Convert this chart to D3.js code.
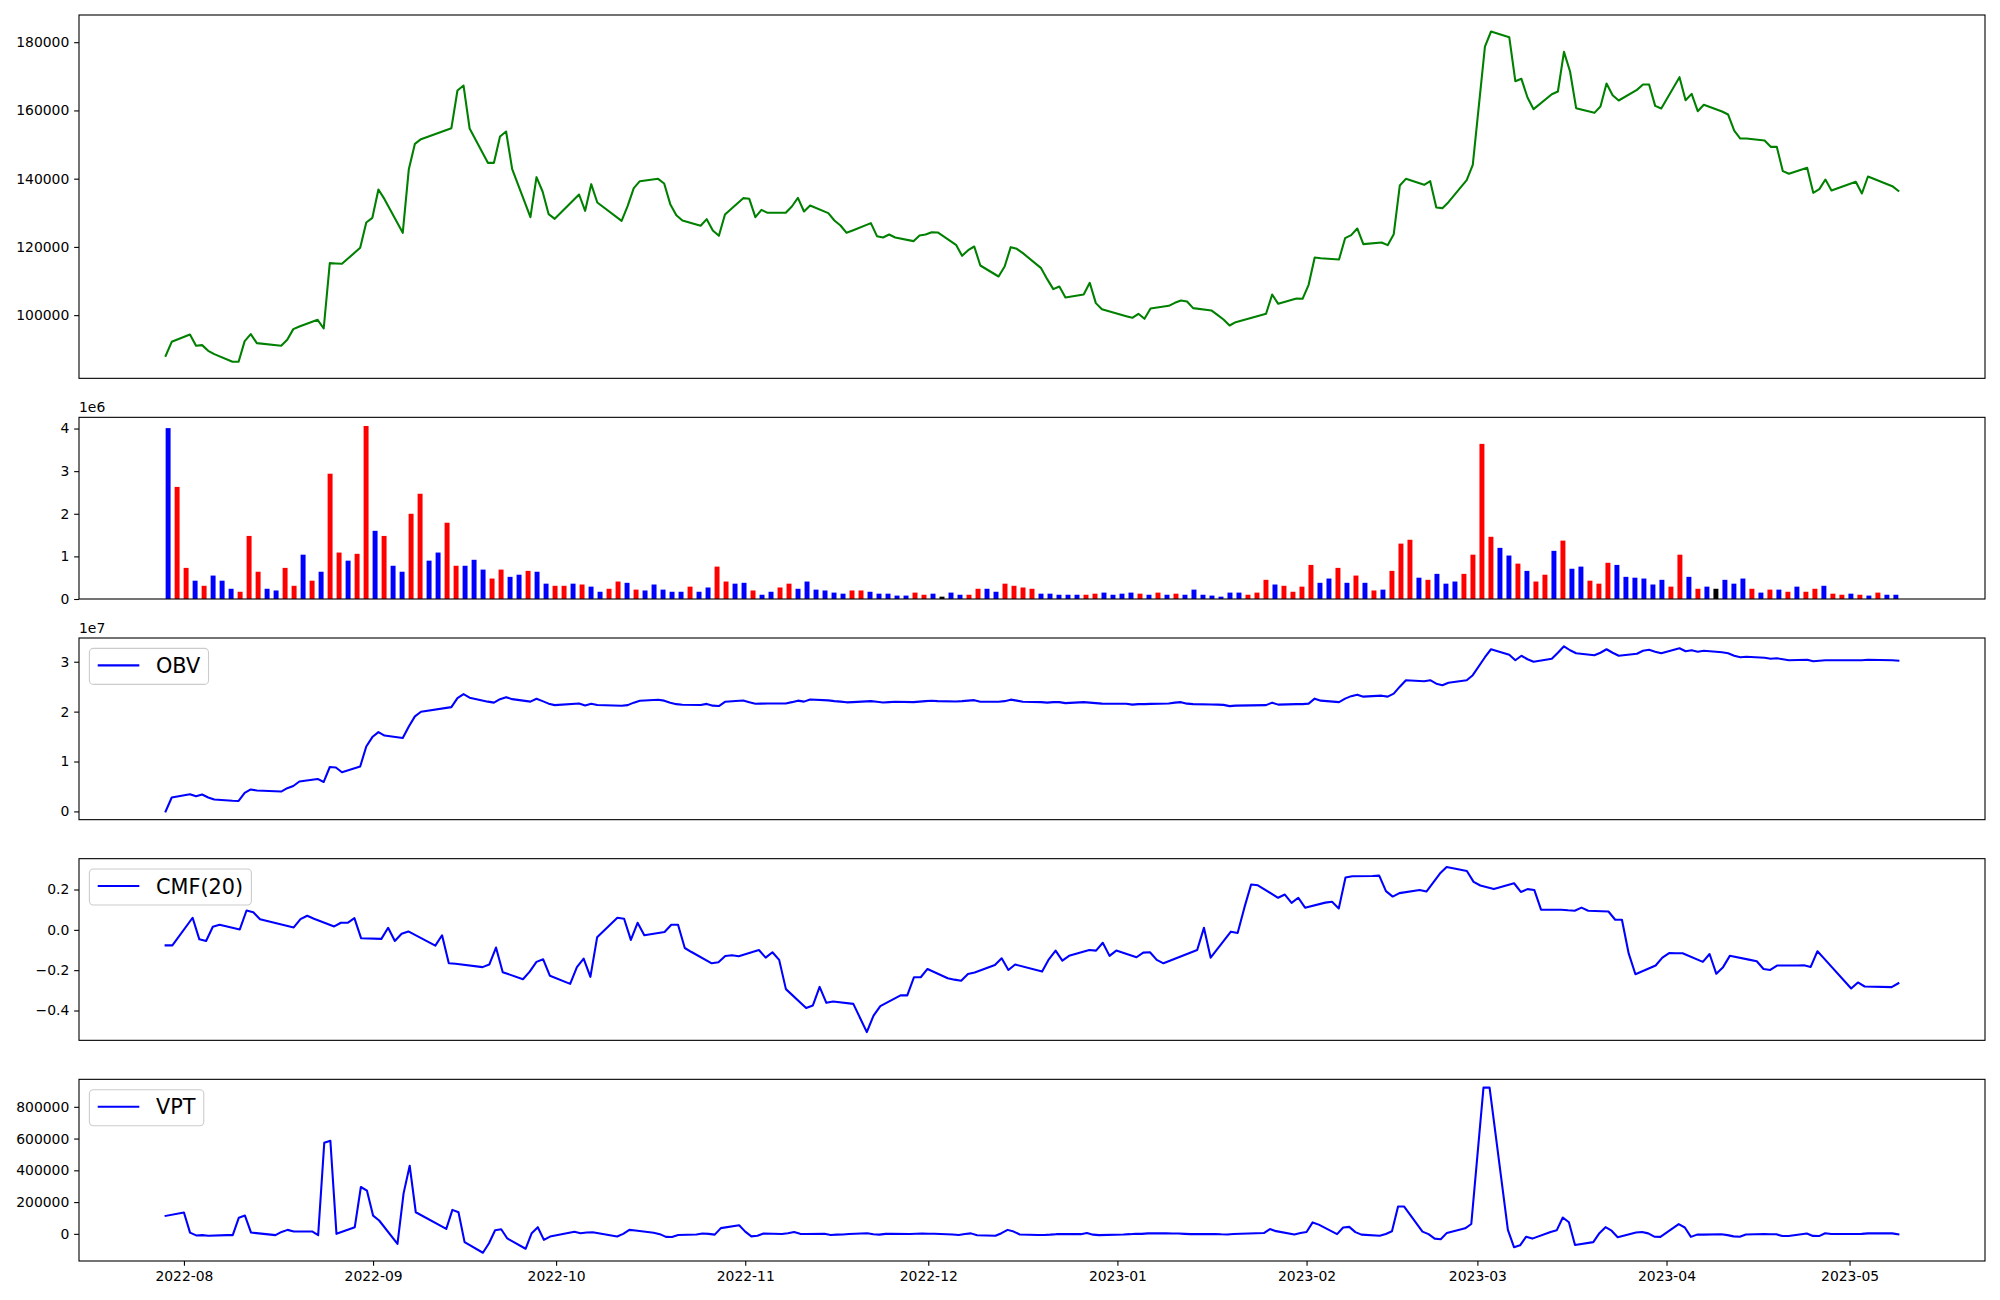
<!DOCTYPE html>
<html><head><meta charset="utf-8">
<script src="https://cdn.jsdelivr.net/npm/d3@7"></script>
<style>
html,body{margin:0;padding:0;background:#fff;}
svg{display:block;font-family:"DejaVu Sans",sans-serif;}
</style></head><body>
<svg id="chart" width="2000" height="1300"></svg>
<script>
// ---------------- DATA ----------------
const dates = ["2022-07-28","2022-07-29",
"2022-08-01","2022-08-02","2022-08-03","2022-08-04","2022-08-05","2022-08-08","2022-08-09","2022-08-10","2022-08-11","2022-08-12","2022-08-16","2022-08-17","2022-08-18","2022-08-19","2022-08-22","2022-08-23","2022-08-24","2022-08-25","2022-08-26","2022-08-29","2022-08-30","2022-08-31",
"2022-09-01","2022-09-02","2022-09-05","2022-09-06","2022-09-07","2022-09-08","2022-09-13","2022-09-14","2022-09-15","2022-09-16","2022-09-19","2022-09-20","2022-09-21","2022-09-22","2022-09-23","2022-09-26","2022-09-27","2022-09-28","2022-09-29","2022-09-30",
"2022-10-04","2022-10-05","2022-10-06","2022-10-07","2022-10-11","2022-10-12","2022-10-13","2022-10-14","2022-10-17","2022-10-18","2022-10-19","2022-10-20","2022-10-21","2022-10-24","2022-10-25","2022-10-26","2022-10-27","2022-10-28","2022-10-31",
"2022-11-01","2022-11-02","2022-11-03","2022-11-04","2022-11-07","2022-11-08","2022-11-09","2022-11-10","2022-11-11","2022-11-14","2022-11-15","2022-11-16","2022-11-17","2022-11-18","2022-11-21","2022-11-22","2022-11-23","2022-11-24","2022-11-25","2022-11-28","2022-11-29","2022-11-30",
"2022-12-01","2022-12-02","2022-12-05","2022-12-06","2022-12-07","2022-12-08","2022-12-09","2022-12-12","2022-12-13","2022-12-14","2022-12-15","2022-12-16","2022-12-19","2022-12-20","2022-12-21","2022-12-22","2022-12-23","2022-12-26","2022-12-27","2022-12-28","2022-12-29",
"2023-01-02","2023-01-03","2023-01-04","2023-01-05","2023-01-06","2023-01-09","2023-01-10","2023-01-11","2023-01-12","2023-01-13","2023-01-16","2023-01-17","2023-01-18","2023-01-19","2023-01-20","2023-01-25","2023-01-26","2023-01-27","2023-01-30","2023-01-31",
"2023-02-01","2023-02-02","2023-02-03","2023-02-06","2023-02-07","2023-02-08","2023-02-09","2023-02-10","2023-02-13","2023-02-14","2023-02-15","2023-02-16","2023-02-17","2023-02-20","2023-02-21","2023-02-22","2023-02-23","2023-02-24","2023-02-27","2023-02-28",
"2023-03-02","2023-03-03","2023-03-06","2023-03-07","2023-03-08","2023-03-09","2023-03-10","2023-03-13","2023-03-14","2023-03-15","2023-03-16","2023-03-17","2023-03-20","2023-03-21","2023-03-22","2023-03-23","2023-03-24","2023-03-27","2023-03-28","2023-03-29","2023-03-30","2023-03-31",
"2023-04-03","2023-04-04","2023-04-05","2023-04-06","2023-04-07","2023-04-10","2023-04-11","2023-04-12","2023-04-13","2023-04-14","2023-04-17","2023-04-18","2023-04-19","2023-04-20","2023-04-21","2023-04-24","2023-04-25","2023-04-26","2023-04-27","2023-04-28",
"2023-05-02","2023-05-03","2023-05-04","2023-05-08","2023-05-09"];

const closePrice = [88080,92190,94330,91010,91210,89550,88570,86320,86320,92380,
94430,91800,91010,92770,95900,96680,98630,96090,115240,115140,
115040,119730,127150,128520,136830,133990,124130,142780,150210,151580,
154800,165840,167300,154700,144640,144640,152360,153820,142780,128720,
140440,136240,129600,128230,135360,130570,138390,133020,127640,132040,
137220,139270,139950,138580,132530,129300,127740,126180,128130,124810,
123250,129500,134290,134090,128720,130870,129990,129990,131840,134380,
130380,132140,129890,127740,126280,124130,124810,126960,123150,122760,
123640,122760,121690,123350,123640,124320,124230,120610,117390,119050,
120120,114550,111330,114260,119930,119440,118170,113770,110550,107620,
108400,105180,106060,109480,103520,101760,99710,99220,100390,98930,
101950,102730,103610,104300,104000,102050,101370,100100,98730,96970,
97950,100390,106060,103320,104880,104790,108890,116900,116700,116310,
122560,123440,125400,120810,121300,120510,123740,138000,139950,138190,
139270,131550,131360,133110,139560,144050,178730,183130,181470,168570,
169260,163790,160370,164760,165540,177170,171400,160660,159290,161150,
167890,164470,162910,166030,167600,167600,161340,160560,169740,163000,
164860,159780,161640,159680,158800,154110,151770,151770,151180,149330,
149330,142200,141420,143170,135850,136920,139750,136530,139070,135650,
140640,137800,136430];

// volume in units of 1e6 shares
const volume1e6 = [4.01,2.63,0.73,0.43,0.31,0.55,0.43,0.24,0.17,1.48,
0.64,0.24,0.20,0.73,0.31,1.04,0.43,0.64,2.94,1.09,
0.90,1.06,4.06,1.60,1.48,0.78,0.64,2.00,2.47,0.90,
1.09,1.79,0.78,0.78,0.92,0.69,0.48,0.69,0.52,0.57,
0.66,0.64,0.36,0.31,0.31,0.36,0.34,0.29,0.17,0.24,
0.41,0.38,0.22,0.20,0.34,0.22,0.17,0.17,0.29,0.17,
0.27,0.76,0.41,0.36,0.38,0.20,0.10,0.17,0.27,0.36,
0.24,0.41,0.22,0.20,0.15,0.125,0.20,0.20,0.17,0.125,
0.125,0.08,0.08,0.15,0.10,0.125,0.055,0.15,0.10,0.10,
0.24,0.24,0.17,0.36,0.31,0.27,0.24,0.125,0.125,0.10,
0.10,0.10,0.10,0.125,0.15,0.10,0.125,0.15,0.125,0.10,
0.15,0.10,0.125,0.10,0.22,0.10,0.08,0.055,0.15,0.15,
0.10,0.15,0.45,0.34,0.31,0.17,0.29,0.80,0.38,0.48,
0.73,0.38,0.55,0.38,0.20,0.22,0.66,1.30,1.39,0.50,
0.45,0.59,0.36,0.41,0.59,1.04,3.64,1.46,1.20,1.02,
0.83,0.66,0.41,0.57,1.13,1.37,0.71,0.76,0.43,0.36,
0.85,0.80,0.52,0.50,0.48,0.34,0.45,0.29,1.04,0.52,
0.24,0.29,0.24,0.45,0.36,0.48,0.24,0.15,0.22,0.22,
0.17,0.29,0.17,0.24,0.31,0.125,0.10,0.125,0.10,0.08,
0.15,0.10,0.10];

// bar direction: 1 = up (red), -1 = down (blue), 0 = unchanged (black)
const volumeDir = [-1,1,1,-1,1,-1,-1,-1,1,1,
1,-1,-1,1,1,-1,1,-1,1,1,
-1,1,1,-1,1,-1,-1,1,1,-1,
-1,1,1,-1,-1,-1,1,1,-1,-1,
1,-1,-1,1,1,-1,1,-1,-1,1,
1,-1,1,-1,-1,-1,-1,-1,1,-1,
-1,1,1,-1,-1,1,-1,-1,1,1,
-1,-1,-1,-1,-1,-1,1,1,-1,-1,
-1,-1,-1,1,1,-1,0,-1,-1,1,
1,-1,-1,1,1,1,1,-1,-1,-1,
-1,-1,1,1,-1,-1,-1,-1,1,-1,
1,-1,1,-1,-1,-1,-1,-1,-1,-1,
1,1,1,-1,1,1,1,1,-1,-1,
1,-1,1,-1,1,-1,1,1,1,-1,
1,-1,-1,-1,1,1,1,1,-1,-1,
1,-1,1,1,-1,1,-1,-1,1,1,
1,-1,-1,-1,-1,-1,-1,1,1,-1,
1,-1,0,-1,-1,-1,1,-1,1,-1,
1,-1,1,1,-1,1,1,-1,1,-1,
1,-1,-1];

// OBV in units of 1e7
const obv1e7 = [0,0.279,0.345,0.305,0.338,0.28,0.237,0.214,0.21,0.37,
0.44,0.418,0.398,0.465,0.51,0.60,0.651,0.59,0.89,0.88,
0.784,0.90,1.30,1.49,1.59,1.52,1.47,1.70,1.905,1.998,
2.09,2.27,2.35,2.28,2.20,2.18,2.25,2.29,2.25,2.20,
2.257,2.21,2.16,2.13,2.164,2.124,2.157,2.131,2.117,2.13,
2.18,2.217,2.237,2.22,2.18,2.15,2.137,2.131,2.155,2.12,
2.111,2.197,2.224,2.19,2.157,2.16,2.164,2.164,2.19,2.22,
2.20,2.244,2.225,2.21,2.20,2.186,2.19,2.21,2.197,2.184,
2.19,2.197,2.19,2.20,2.21,2.217,2.21,2.204,2.21,2.22,
2.23,2.197,2.197,2.21,2.24,2.22,2.197,2.19,2.18,2.19,
2.19,2.17,2.19,2.18,2.17,2.16,2.157,2.14,2.15,2.15,
2.155,2.164,2.18,2.19,2.16,2.15,2.144,2.14,2.135,2.11,
2.12,2.13,2.18,2.14,2.15,2.15,2.16,2.26,2.22,2.19,
2.26,2.31,2.34,2.30,2.32,2.30,2.36,2.50,2.63,2.61,
2.63,2.56,2.53,2.58,2.63,2.73,3.09,3.25,3.14,3.03,
3.12,3.05,3.00,3.06,3.18,3.31,3.23,3.17,3.13,3.18,
3.25,3.18,3.12,3.16,3.22,3.24,3.20,3.17,3.27,3.21,
3.23,3.20,3.22,3.19,3.17,3.12,3.09,3.10,3.08,3.06,
3.07,3.05,3.03,3.04,3.01,3.02,3.03,3.03,3.03,3.03,
3.04,3.03,3.02];

// CMF(20): no value for the first 19 days
const cmf20 = [null,null,null,null,null,null,null,null,null,null,
null,null,null,null,null,null,null,null,null,-0.077,
-0.077,0.06,-0.047,-0.055,0.015,0.025,0.002,0.096,0.087,0.053,
0.012,0.053,0.07,0.055,0.017,0.035,0.035,0.058,-0.042,-0.045,
0.01,-0.055,-0.019,-0.008,-0.078,-0.027,-0.166,-0.168,-0.185,-0.172,
-0.088,-0.21,-0.245,-0.207,-0.159,-0.146,-0.228,-0.268,-0.185,-0.143,
-0.233,-0.037,0.06,0.055,-0.05,0.035,-0.027,-0.011,0.025,0.025,
-0.09,-0.11,-0.166,-0.161,-0.13,-0.126,-0.131,-0.1,-0.138,-0.111,
-0.149,-0.294,-0.388,-0.375,-0.283,-0.362,-0.355,-0.367,-0.437,-0.507,
-0.425,-0.378,-0.325,-0.325,-0.235,-0.235,-0.194,-0.24,-0.247,-0.252,
-0.219,-0.212,-0.174,-0.141,-0.199,-0.172,-0.207,-0.146,-0.103,-0.153,
-0.129,-0.1,-0.103,-0.064,-0.129,-0.103,-0.136,-0.113,-0.111,-0.149,
-0.166,-0.1,0.01,-0.138,-0.009,-0.016,0.11,0.225,0.221,0.159,
0.175,0.134,0.159,0.11,0.135,0.139,0.106,0.26,0.266,0.267,
0.269,0.192,0.165,0.182,0.198,0.19,0.279,0.312,0.292,0.238,
0.22,0.211,0.202,0.231,0.188,0.202,0.198,0.1,0.1,0.097,
0.095,0.11,0.095,0.091,0.05,0.05,-0.117,-0.22,-0.177,-0.138,
-0.115,-0.116,-0.116,-0.159,-0.12,-0.218,-0.185,-0.129,-0.149,-0.156,
-0.194,-0.199,-0.177,-0.177,-0.176,-0.184,-0.106,-0.143,-0.291,-0.261,
-0.281,-0.284,-0.265];

// VPT: no value on the first day
const vpt = [null,113000,134000,8000,-10000,-8000,-12000,-8000,-8000,102000,
115000,8000,-8000,12000,25000,15000,15000,-8000,574000,586000,
0,42000,295000,272000,115000,84000,-63000,255000,429000,136000,
31000,151000,136000,-52000,-119000,-59000,23000,29000,-29000,-94000,
4000,42000,-38000,-17000,13000,4000,8000,10000,-17000,0,
25000,21000,7000,-2000,-19000,-20000,-7000,-4000,2000,0,
-5000,36000,54000,14000,-16000,-12000,2000,-1000,4000,11000,
0,-1000,1000,-7000,-5000,-4000,-1000,4000,-2000,-5000,
0,0,-1000,1000,2000,1000,1000,-4000,-7000,-1000,
3000,-9000,-12000,4000,25000,14000,-4000,-7000,-7000,-5000,
-2000,-2000,-2000,5000,-5000,-8000,-4000,-2000,1000,0,
3000,4000,2000,2000,0,-2000,-2000,-1000,-3000,-4000,
-1000,5000,30000,17000,-4000,5000,12000,72000,58000,-2000,
40000,44000,11000,-5000,-12000,-1000,16000,172000,172000,14000,
-2000,-30000,-34000,6000,35000,62000,921000,921000,25000,-84000,
-72000,-18000,-30000,12000,22000,103000,73000,-70000,-52000,4000,
42000,20000,-21000,8000,12000,3000,-18000,-19000,61000,40000,
-19000,-5000,-5000,-3000,-8000,-16000,-18000,-4000,-1000,-3000,
-3000,-14000,-14000,2000,-13000,-14000,4000,-1000,-1000,0,
3000,3000,-3000];

const priceTicks = [100000,120000,140000,160000,180000];
const volTicks = [0,1,2,3,4];
const obvTicks = [0,1,2,3];
const cmfTicks = [-0.4,-0.2,0.0,0.2];
const vptTicks = [0,200000,400000,600000,800000];
const xTickLabels = ["2022-08","2022-09","2022-10","2022-11","2022-12","2023-01","2023-02","2023-03","2023-04","2023-05"];

// ---------------- LAYOUT / STYLE ----------------
const C = {price:"#008000", line:"#0000ff", up:"#ff0000", down:"#0000ff", flat:"#000000"};
const FS = 13.9, LFS = 20.8, LW = 2.08, SPINE = 1.1, TICK = 4.86, PAD = 4.86;
const L = 79, R = 1985, TOP = 15, BOTTOM = 1261, GAP = 39;
const ratios = [2,1,1,1,1];
const unit = (BOTTOM - TOP - GAP*(ratios.length-1)) / d3.sum(ratios);
let yy = TOP;
const P = ratios.map(r => { const p = {top: yy, bottom: yy + r*unit}; yy += r*unit + GAP; return p; });

const svg = d3.select("#chart");
const N = dates.length;
const T = dates.map(d3.utcParse("%Y-%m-%d"));

// each panel autoscales x to its own valid data (5% margins)
function timeScale(vals){
  const t = T.filter((d,i)=> vals[i] !== null && vals[i] !== undefined);
  const e = d3.extent(t), span = e[1]-e[0];
  return d3.scaleUtc().domain([new Date(+e[0]-0.05*span), new Date(+e[1]+0.05*span)]).range([L, R]);
}
function padDomain(arr){ const e = d3.extent(arr.filter(v=>v!==null)), r = e[1]-e[0]; return [e[0]-0.05*r, e[1]+0.05*r]; }

function yAxis(g, y, ticks, fmt){
  const ax = d3.axisLeft(y).tickValues(ticks).tickFormat(fmt).tickSize(TICK).tickPadding(PAD).tickSizeOuter(0);
  g.call(ax);
  g.select(".domain").remove();
  g.selectAll("line").attr("stroke","#000").attr("stroke-width",SPINE);
  g.selectAll("text").attr("fill","#000").style("font-size",FS+"px").style("font-family","DejaVu Sans");
  g.attr("font-family", null).attr("font-size", null);
}
function frame(p){
  svg.append("rect").attr("x",L).attr("y",p.top).attr("width",R-L).attr("height",p.bottom-p.top)
    .attr("fill","none").attr("stroke","#000").attr("stroke-width",SPINE);
}
function drawLine(x, y, vals, color){
  const line = d3.line().defined(d => d !== null).x((d,i)=>x(T[i])).y(d=>y(d));
  svg.append("path").datum(vals).attr("d", line).attr("fill","none").attr("stroke",color)
    .attr("stroke-width",LW).attr("stroke-linejoin","round").attr("stroke-linecap","square");
}
function legend(p, label){
  const g = svg.append("g");
  const pad = 0.4*LFS, hl = 2.0*LFS, htp = 0.8*LFS, bh = 36;
  const bx = L + 0.5*LFS, by = p.top + 0.5*LFS, cy = by + bh/2 - 1;
  const txt = g.append("text").attr("x", bx + pad + hl + htp).attr("y", cy + 0.36*LFS)
     .style("font-size", LFS+"px").style("font-family","DejaVu Sans").attr("fill","#000").text(label);
  const tw = txt.node().getComputedTextLength();
  const bw = 2*pad + hl + htp + tw;
  g.insert("rect","text").attr("x",bx).attr("y",by).attr("width",bw).attr("height",bh).attr("rx",4).attr("ry",4)
    .attr("fill","#fff").attr("fill-opacity",0.8).attr("stroke","#cccccc").attr("stroke-width",SPINE);
  g.append("line").attr("x1",bx+pad).attr("x2",bx+pad+hl).attr("y1",cy).attr("y2",cy)
    .attr("stroke",C.line).attr("stroke-width",LW);
}
function offsetText(p, s){
  svg.append("text").attr("x",L).attr("y",p.top-5).style("font-size",FS+"px").style("font-family","DejaVu Sans")
    .attr("fill","#000").text(s);
}

// Panel 1: price
{
  const p = P[0], x = timeScale(closePrice);
  const y = d3.scaleLinear().domain(padDomain(closePrice)).range([p.bottom, p.top]);
  drawLine(x, y, closePrice, C.price);
  yAxis(svg.append("g").attr("transform",`translate(${L},0)`), y, priceTicks, d3.format("d"));
  frame(p);
}
// Panel 2: volume bars (index based)
{
  const p = P[1], w = 0.55, ext = (N-1) + w;
  const xb = d3.scaleLinear().domain([-w/2 - 0.05*ext, (N-1) + w/2 + 0.05*ext]).range([L, R]);
  const y = d3.scaleLinear().domain([0, d3.max(volume1e6)*1.05]).range([p.bottom, p.top]);
  svg.append("g").selectAll("rect").data(volume1e6).join("rect")
    .attr("x",(d,i)=>xb(i - w/2)).attr("width", xb(w) - xb(0))
    .attr("y", d=>y(d)).attr("height", d=>y(0)-y(d))
    .attr("fill",(d,i)=> volumeDir[i] > 0 ? C.up : (volumeDir[i] < 0 ? C.down : C.flat));
  yAxis(svg.append("g").attr("transform",`translate(${L},0)`), y, volTicks, d3.format("d"));
  frame(p);
  offsetText(p, "1e6");
}
// Panel 3: OBV
{
  const p = P[2], x = timeScale(obv1e7);
  const y = d3.scaleLinear().domain(padDomain(obv1e7)).range([p.bottom, p.top]);
  drawLine(x, y, obv1e7, C.line);
  yAxis(svg.append("g").attr("transform",`translate(${L},0)`), y, obvTicks, d3.format("d"));
  frame(p);
  offsetText(p, "1e7");
  legend(p, "OBV");
}
// Panel 4: CMF
{
  const p = P[3], x = timeScale(cmf20);
  const y = d3.scaleLinear().domain(padDomain(cmf20)).range([p.bottom, p.top]);
  drawLine(x, y, cmf20, C.line);
  yAxis(svg.append("g").attr("transform",`translate(${L},0)`), y, cmfTicks, d3.format(".1f"));
  frame(p);
  legend(p, "CMF(20)");
}
// Panel 5: VPT + date axis
{
  const p = P[4], x = timeScale(vpt);
  const y = d3.scaleLinear().domain(padDomain(vpt)).range([p.bottom, p.top]);
  drawLine(x, y, vpt, C.line);
  yAxis(svg.append("g").attr("transform",`translate(${L},0)`), y, vptTicks, d3.format("d"));
  const tv = xTickLabels.map(d3.utcParse("%Y-%m"));
  const g = svg.append("g").attr("transform",`translate(0,${p.bottom})`);
  g.call(d3.axisBottom(x).tickValues(tv).tickFormat(d3.utcFormat("%Y-%m")).tickSize(TICK).tickPadding(PAD).tickSizeOuter(0));
  g.select(".domain").remove();
  g.selectAll("line").attr("stroke","#000").attr("stroke-width",SPINE);
  g.selectAll("text").attr("fill","#000").style("font-size",FS+"px").style("font-family","DejaVu Sans");
  frame(p);
  legend(p, "VPT");
}
</script>
</body></html>
